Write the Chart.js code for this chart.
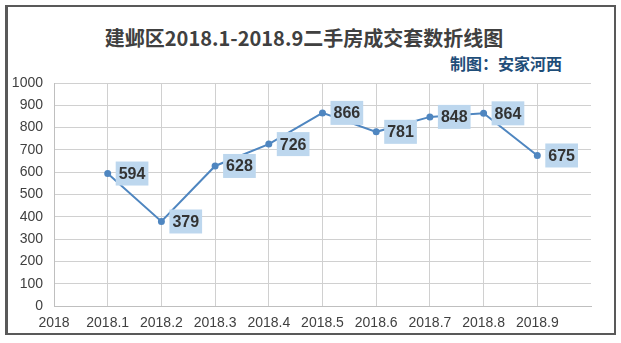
<!DOCTYPE html>
<html lang="zh">
<head>
  <meta charset="UTF-8" />
  <title>建邺区二手房成交套数</title>
  <script src="https://cdn.jsdelivr.net/npm/chart.js"></script>
  <style>
    body {
      margin: 0;
      width: 621px;
      height: 343px;
      background: #fff;
      position: relative;
      overflow: hidden;
      font-family: 'Liberation Sans', Arial, sans-serif;
    }

    .frame {
      position: absolute;
      left: 5px;
      top: 5px;
      width: 606px;
      height: 326px;
      border: 2px solid #595959;
      border-left-width: 3px;
    }

    .title {
      position: absolute;
      left: 0;
      width: 608px;
      top: 25px;
      text-align: center;
      font: bold 20px 'Noto Sans CJK SC', sans-serif;
      color: #404040;
      line-height: 26px;
    }

    .subtitle {
      position: absolute;
      right: 59px;
      top: 53px;
      font: bold 16px 'Noto Sans CJK SC', sans-serif;
      color: #1f4e79;
      line-height: 20px;
    }

    #chart {
      position: absolute;
      left: 0;
      top: 0;
    }
  </style>
</head>
<body>
  <div class="frame"></div>
  <div class="title">建邺区2018.1-2018.9二手房成交套数折线图</div>
  <div class="subtitle">制图：安家河西</div>
  <canvas id="chart" width="621" height="343"></canvas>

  <script>
    // 月份（首尾留空位）
    const months = ["2018", "2018.1", "2018.2", "2018.3", "2018.4", "2018.5",
                    "2018.6", "2018.7", "2018.8", "2018.9", ""];
    // 成交套数
    const sales = [null, 594, 379, 628, 726, 866, 781, 848, 864, 675, null];

    // 数据标签：点右侧的浅蓝底框
    const valueBoxes = {
      id: "valueBoxes",
      afterDatasetsDraw(chart) {
        const ctx = chart.ctx;
        const meta = chart.getDatasetMeta(0);
        ctx.save();
        ctx.font = "bold 16px 'Liberation Sans', Arial, sans-serif";
        ctx.textBaseline = "middle";
        ctx.textAlign = "left";
        meta.data.forEach((pt, i) => {
          const v = sales[i];
          if (v === null) return;
          const text = String(v);
          const w = ctx.measureText(text).width + 6;
          const h = 24;
          const x = pt.x + 8;
          const y = pt.y - h / 2;
          ctx.fillStyle = "#bdd7ee";
          ctx.fillRect(x, y, w, h);
          ctx.fillStyle = "#333333";
          ctx.fillText(text, x + 3, pt.y + 1);
        });
        ctx.restore();
      }
    };

    const tickFont = { family: "'Liberation Sans', Arial, sans-serif", size: 14 };

    new Chart(document.getElementById("chart"), {
      type: "line",
      data: {
        labels: months,
        datasets: [{
          data: sales,
          borderColor: "#4f86c0",
          backgroundColor: "#4f86c0",
          borderWidth: 2,
          pointRadius: 2.5,
          pointHoverRadius: 2.5,
          tension: 0,
          spanGaps: false
        }]
      },
      options: {
        responsive: false,
        animation: false,
        layout: { padding: { top: 83, right: 30, bottom: 0, left: 0 } },
        plugins: {
          legend: { display: false },
          tooltip: { enabled: false }
        },
        scales: {
          x: {
            offset: false,
            grid: {
              color: ctx => ctx.index === months.length - 1 ? "rgba(0,0,0,0)" : "#d0d0d0",
              drawTicks: false
            },
            border: { color: "#bfbfbf" },
            ticks: {
              color: "#404040",
              font: tickFont,
              padding: 9,
              maxRotation: 0,
              autoSkip: false
            },
            afterFit(scale) { scale.height = 37; }
          },
          y: {
            min: 0,
            max: 1000,
            ticks: {
              stepSize: 100,
              color: "#404040",
              font: tickFont,
              padding: 11,
              callback: v => String(v)
            },
            grid: { color: "#d0d0d0", drawTicks: false },
            border: { color: "#bfbfbf" },
            afterFit(scale) { scale.width = 54; }
          }
        }
      },
      plugins: [valueBoxes]
    });
  </script>
</body>
</html>
